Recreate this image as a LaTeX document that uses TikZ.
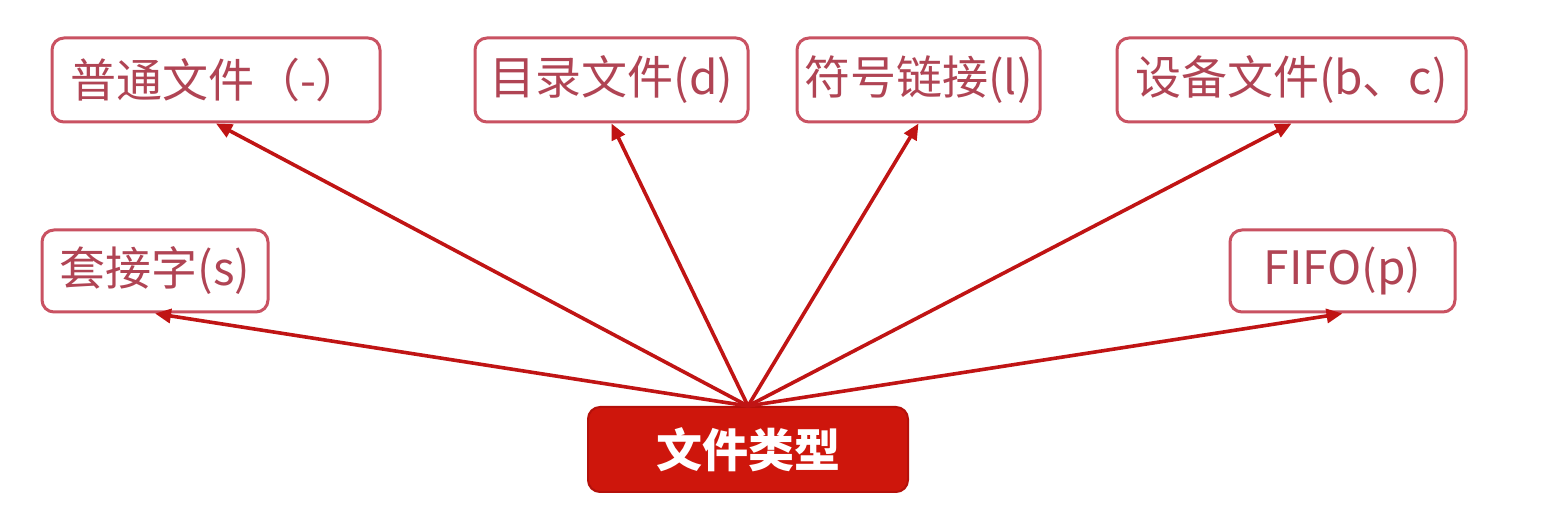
\documentclass[tikz,border=0pt]{standalone}
\usepackage{fontspec}
\usepackage{tikz}
\usetikzlibrary{arrows.meta}
\newfontfamily\cjk{Noto Sans CJK SC}
\definecolor{ftborder}{RGB}{201,82,98}
\definecolor{fttext}{RGB}{176,68,84}
\definecolor{ftred}{RGB}{206,22,12}
\definecolor{ftdark}{RGB}{180,16,10}
\definecolor{ftarrow}{RGB}{192,20,20}

\begin{document}
\begin{tikzpicture}[x=1pt, y=1pt,
  typebox/.style={draw=ftborder, line width=3pt, rounded corners=12pt, fill=white,
    inner sep=0pt, minimum height=84pt, text=fttext, font=\cjk\fontsize{46}{54}\selectfont},
  rootbox/.style={draw=ftdark, line width=2pt, rounded corners=12pt, fill=ftred,
    inner sep=0pt, minimum width=320pt, minimum height=85pt, text=white,
    font=\cjk\bfseries\fontsize{46}{54}\selectfont},
  arr/.style={draw=ftarrow, line width=3.6pt, -{Triangle[length=16pt, width=14pt]}}]
\useasboundingbox (0,0) rectangle (1548,508);
\fill[white] (0,0) rectangle (1548,508);

% Top row
\node[typebox, minimum width=328pt] (regular) at (216, 428) {普通文件（-）};
\node[typebox, minimum width=273pt] (dir) at (611.5, 428) {目录文件(d)};
\node[typebox, minimum width=243pt] (link) at (918.5, 428) {符号链接(l)};
\node[typebox, minimum width=349pt] (device) at (1291.5, 428) {设备文件(b、c)};

% Second row
\node[typebox, minimum width=226pt, minimum height=82pt] (socket) at (155, 237) {套接字(s)};
\node[typebox, minimum width=225pt, minimum height=82pt] (fifo) at (1342.5, 237) {FIFO(p)};

% Root
\node[rootbox] (ftype) at (748, 58.5) {文件类型};

% Arrows
\foreach \t in {regular, dir, link, device, socket, fifo} {
  \draw[arr] (ftype.north) -- (\t.south);
}
\end{tikzpicture}
\end{document}
